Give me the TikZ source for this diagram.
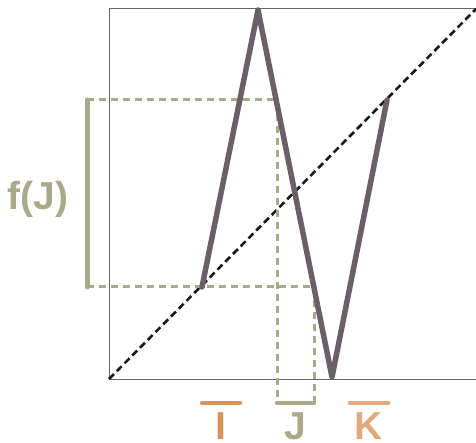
\documentclass[tikz,border=0pt]{standalone}
\usepackage{fontspec}
\setmainfont{Liberation Sans}
\begin{document}
\begin{tikzpicture}[x=1pt,y=-1pt,
  axis/.style={draw=black!60,line width=1pt},
  zig/.style={draw=zigc,line width=5.5pt,line join=round,line cap=round},
  guide/.style={draw=olivec,line width=3pt,dash pattern=on 7pt off 5pt},
  diag/.style={draw=black!90,line width=2.6pt,dash pattern=on 7pt off 4pt},
  ibar/.style={line width=4.5pt,line cap=round},
  lbl/.style={font=\fontsize{39}{39}\selectfont\bfseries,inner sep=0pt}]
\definecolor{zigc}{HTML}{6B6068}
\definecolor{olivec}{HTML}{A9AA8A}
\definecolor{ic}{HTML}{D4955A}
\definecolor{kc}{HTML}{DFAA80}
\useasboundingbox (0,0) rectangle (476,443);
% axes
\coordinate (O) at (109,379);
\coordinate (TL) at (109,9);
\coordinate (TR) at (476,9);
\coordinate (BR) at (476,379);
\draw[axis] (BR) -- (O) -- (TL) -- (TR);
% diagonal
\draw[diag] (O) -- (TR);
% zigzag points
\coordinate (p1) at (202,287);
\coordinate (p2) at (258,10);
\coordinate (p3) at (332,377);
\coordinate (p4) at (387,100);
% guides
\coordinate (fa) at (87,100);
\coordinate (fb) at (87,287);
\coordinate (ja) at (277,403);
\coordinate (jb) at (314,403);
\coordinate (ga) at (277,100);
\coordinate (gb) at (314,287);
\draw[guide] (fa) -- (ga) -- (ja);
\draw[guide] (fb) -- (gb) -- (jb);
\draw[zig] (p1) -- (p2) -- (p3) -- (p4);
\draw[olivec,line width=5pt,line cap=round] (fa) -- (fb);
% bars
\coordinate (ia) at (202,403);
\coordinate (ib) at (240,403);
\coordinate (ka) at (350,403);
\coordinate (kb) at (388,403);
\draw[ibar,ic] (ia) -- (ib);
\draw[ibar,olivec] (ja) -- (jb);
\draw[ibar,kc] (ka) -- (kb);
% labels
\node[lbl,text=ic] (I) at (221,426) {I};
\node[lbl,text=olivec] (J) at (295,426) {J};
\node[lbl,text=kc] (K) at (369,426) {K};
\node[lbl,text=olivec] (fJ) at (38,199) {f(J)};
\end{tikzpicture}
\end{document}
